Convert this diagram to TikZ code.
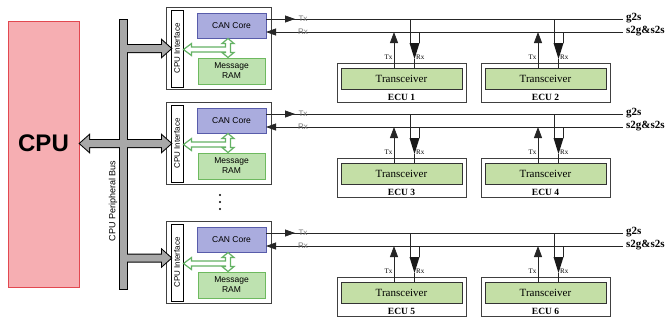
\documentclass[tikz,border=0pt]{standalone}
\usepackage{fontspec}
\setmainfont{Liberation Serif}
\newfontfamily\arialf{Liberation Sans}
\usetikzlibrary{arrows.meta}
\definecolor{cpuFill}{RGB}{246,174,178}
\definecolor{cpuLine}{RGB}{226,72,80}
\definecolor{coreFill}{RGB}{170,172,222}
\definecolor{coreLine}{RGB}{88,92,170}
\definecolor{ramFill}{RGB}{190,226,176}
\definecolor{ramLine}{RGB}{110,185,95}
\definecolor{trFill}{RGB}{196,223,166}
\definecolor{busGray}{RGB}{168,168,168}
\definecolor{grnArrow}{RGB}{100,178,100}
\begin{document}
\begin{tikzpicture}[x=1pt,y=-1pt,
 box/.style={draw, inner sep=0pt, outer sep=0pt},
 cpubox/.style={box, draw=cpuLine, fill=cpuFill, line width=1pt},
 ctrlbox/.style={box, draw=black!75, fill=white, line width=1pt},
 ifbox/.style={box, draw=black, fill=white, line width=0.9pt},
 corebox/.style={box, draw=coreLine, fill=coreFill, line width=1pt, font=\arialf\fontsize{8.5}{10}\selectfont},
 rambox/.style={box, draw=ramLine, fill=ramFill, line width=1pt, font=\arialf\fontsize{8.5}{10}\selectfont, align=center},
 ecubox/.style={box, draw=black!75, fill=white, line width=0.9pt},
 trbox/.style={box, draw=black!80, fill=trFill, line width=0.9pt, font=\fontsize{11}{11}\selectfont},
 sigline/.style={draw=black!85, line width=0.8pt},
 coretip/.style={-{Triangle[length=10pt,width=7pt]}},
 ecusig/.style={font=\fontsize{7}{7}\selectfont, inner sep=0pt},
 coresig/.style={font=\arialf\fontsize{8}{8}\selectfont, text=black!55, inner sep=0pt},
 buslbl/.style={font=\bfseries\fontsize{11}{11}\selectfont, inner sep=0pt, anchor=west},
 ecul/.style={font=\bfseries\fontsize{9.5}{9.5}\selectfont, inner sep=0pt},
 grnT/.style={draw=grnArrow, fill=white, line width=1.2pt, line join=miter},
 busout/.style={draw=black, line width=2pt, line join=miter},
 busin/.style={fill=busGray},
]
\useasboundingbox (0,0) rectangle (668,322);
\node[cpubox, minimum width=71pt, minimum height=266pt] (cpu) at (43.5,154) {};
\node[font=\arialf\bfseries\fontsize{24}{24}\selectfont, inner sep=0pt] (cputext) at (43.5,143.5) {CPU};

\foreach \T/\r/\ea/\eb in {7/1/1/2,102/2/3/4,221/3/5/6}{
\begin{scope}[shift={(0,\T)}]
 \node[ctrlbox, minimum width=105pt, minimum height=82pt] (ctrl\r) at (218.5,41) {};
 \node[ifbox, minimum width=12pt, minimum height=77pt] (if\r) at (177,41.5) {};
 \node[rotate=90, font=\arialf\fontsize{8}{8}\selectfont, inner sep=0pt] (ift\r) at (if\r.center) {CPU Interface};
 \node[corebox, minimum width=69pt, minimum height=25pt] (core\r) at (231.5,18.5) {CAN Core};
 \node[rambox, minimum width=67pt, minimum height=26pt] (ram\r) at (231.5,64) {Message\\RAM};
 \draw[grnT] (228,31.5) -- (234,36.5) -- (230.5,36.5) -- (230.5,45.5) -- (234,45.5) -- (228,50.5) -- (222,45.5) -- (225.5,45.5) -- (225.5,45) -- (191.5,45) -- (191.5,48.5) -- (183.5,42.5) -- (191.5,36.5) -- (191.5,40) -- (225.5,40) -- (225.5,36.5) -- (222,36.5) -- cycle;
 \coordinate (gEnd\r) at (623,12);
 \coordinate (sEnd\r) at (623,25);
 \draw[sigline] (core\r.east |- gEnd\r) -- (gEnd\r);
 \draw[sigline, coretip] (core\r.east |- gEnd\r) -- ++(29,0);
 \draw[sigline, coretip] (sEnd\r) -- (core\r.east |- sEnd\r);
 \node[coresig] (ctx\r) at (303,12) {Tx};
 \node[coresig] (crx\r) at (303,25) {Rx};
 \node[buslbl] (g2s\r) at (626,11.5) {g2s};
 \node[buslbl] (s2g\r) at (626,24.5) {s2g\&s2s};
 \foreach \e/\dx in {\ea/0,\eb/144}{
  \begin{scope}[shift={(\dx,0)}]
   \node[ecubox, minimum width=129pt, minimum height=39pt] (ecu\e) at (401.5,75.5) {};
   \node[trbox, minimum width=121pt, minimum height=21pt] (tr\e) at (401.5,71.5) {Transceiver};
   \node[ecul] (ecul\e) at (401.5,90) {ECU \e};
   \coordinate (tx\e) at (394,25);
   \draw[sigline, -{Triangle[length=11pt,width=8pt]}] (tr\e.north -| tx\e) -- (tx\e);
   \node[ecusig, anchor=east] (txl\e) at (392.5,50) {Tx};
   \node[ecusig, anchor=west] (rxl\e) at (416,50) {Rx};
   \coordinate (rxa\e) at (410,12);
   \coordinate (rxb\e) at (419,25);
   \coordinate (rxm\e) at (414.5,36);
   \coordinate (rxt\e) at (414.5,52);
   \draw[sigline] (rxa\e) -- (rxa\e |- rxm\e);
   \draw[sigline] (rxb\e) -- (rxb\e |- rxm\e);
   \fill[black!90] ([xshift=-5pt]rxm\e) -- ([xshift=5pt]rxm\e) -- (rxt\e) -- cycle;
   \draw[sigline] (rxt\e) -- (tr\e.north -| rxt\e);
  \end{scope}}
\end{scope}}

\foreach \yy in {195,202,209} \fill (220,\yy) circle (1.1pt);

% peripheral bus (union of shapes: outlines first, then fills)
\path[busout] (120,20) rectangle (127,289);
\path[busout] (124,45) -- (162,45) -- (162,40.5) -- (171,48.5) -- (162,56.5) -- (162,52) -- (124,52) -- cycle;
\path[busout] (80,143.5) -- (89,135.5) -- (89,140) -- (162,140) -- (162,135.5) -- (171,143.5) -- (162,151.5) -- (162,147) -- (89,147) -- (89,151.5) -- cycle;
\path[busout] (124,254.5) -- (162,254.5) -- (162,250) -- (171,258) -- (162,266) -- (162,261.5) -- (124,261.5) -- cycle;
\path[busin] (120,20) rectangle (127,289);
\path[busin] (124,45) -- (162,45) -- (162,40.5) -- (171,48.5) -- (162,56.5) -- (162,52) -- (124,52) -- cycle;
\path[busin] (80,143.5) -- (89,135.5) -- (89,140) -- (162,140) -- (162,135.5) -- (171,143.5) -- (162,151.5) -- (162,147) -- (89,147) -- (89,151.5) -- cycle;
\path[busin] (124,254.5) -- (162,254.5) -- (162,250) -- (171,258) -- (162,266) -- (162,261.5) -- (124,261.5) -- cycle;
\node[rotate=90, font=\arialf\fontsize{9}{9}\selectfont, inner sep=0pt] (buslabel) at (113,201) {CPU Peripheral Bus};
\end{tikzpicture}
\end{document}
